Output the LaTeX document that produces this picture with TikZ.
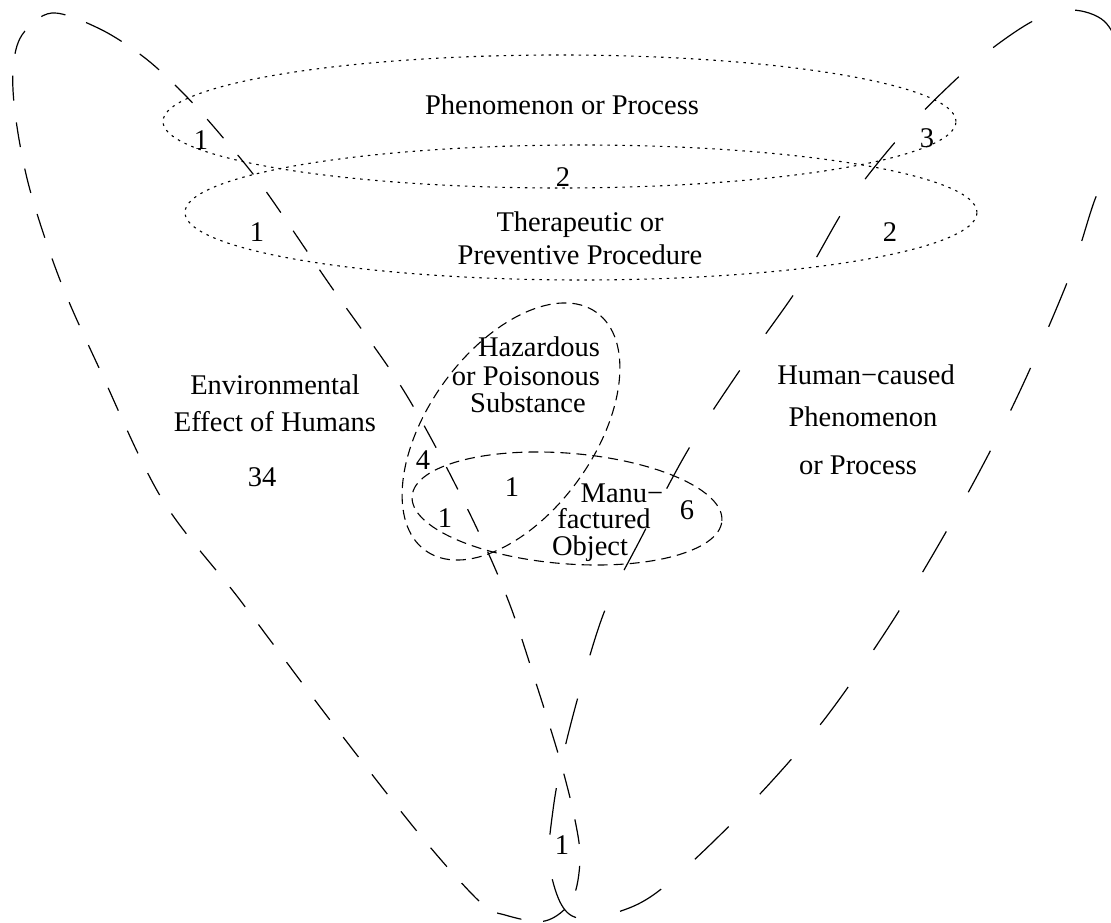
\documentclass[tikz,border=0pt]{standalone}
\usepackage{fontspec}
\setmainfont{Liberation Serif}
\begin{document}
\begin{tikzpicture}[x=1pt,y=1pt,
  lbl/.style={font=\fontsize{28.5}{33}\selectfont, inner sep=0pt, anchor=base},
  dotline/.style={line width=1.1pt, dash pattern=on 2.5pt off 5pt},
  shortdash/.style={line width=1.1pt, dash pattern=on 10pt off 6pt},
  longdashA/.style={line width=1.2pt, dash pattern=on 25pt off 22pt},
  longdashB/.style={line width=1.2pt, dash pattern=on 47pt off 45pt}]
\useasboundingbox (0,0) rectangle (1111,923);
\clip (0,0) rectangle (1111,923);

% dotted ellipses
\draw[dotline] (559.5,801.5) ellipse [x radius=396.5, y radius=66.5];
\draw[dotline] (581,710.5) ellipse [x radius=396, y radius=67.5];

% short dashed ellipses
\draw[shortdash, rotate around={54.3:(511,491.5)}] (511,491.5) ellipse [x radius=146.6, y radius=83];
\draw[shortdash, rotate around={-4.6:(567,414.5)}] (567,414.5) ellipse [x radius=155.4, y radius=55.3];

% left big loop
\draw[longdashA] plot[smooth cycle, tension=0.55] coordinates {
 (52,910) (100,894) (145,865) (185,828) (225,783) (265,733) (330,638)
 (397,543) (440,468) (480,388) (510,318) (535,243) (560,163) (575,103)
 (580,63) (572,23) (545,2) (505,8) (480,21) (420,88) (330,203) (240,323)
 (162,424) (100,553) (60,643) (30,733) (16,803) (13,853) (22,888)};

% right big loop
\draw[longdashB] plot[smooth cycle, tension=0.55] coordinates {
 (1072,913) (1104,902) (1120,870) (1122,820) (1114,770) (1094,721) (1072,653)
 (1035,565) (998,487) (950,398) (890,298) (820,198) (740,108) (660,33)
 (615,10) (578,5) (560,21) (549,63) (553,113) (562,163) (580,233)
 (605,313) (640,383) (688,473) (740,553) (800,638) (850,723) (903,790)
 (950,838) (990,873) (1035,903)};

% labels
\node[lbl] (pp) at (562,808) {Phenomenon or Process};
\node[lbl] (n2a) at (563,736) {2};
\node[lbl] (tp1) at (580,691) {Therapeutic or};
\node[lbl] (tp2) at (580,658) {Preventive Procedure};
\node[lbl] (n1a) at (201,773) {1};
\node[lbl] (n3) at (927,775) {3};
\node[lbl] (n1b) at (257,681) {1};
\node[lbl] (n2b) at (890,681) {2};
\node[lbl] (env1) at (275,528) {Environmental};
\node[lbl] (env2) at (275,491) {Effect of Humans};
\node[lbl] (n34) at (262,436) {34};
\node[lbl] (hc1) at (866,538) {Human−caused};
\node[lbl] (hc2) at (863,496) {Phenomenon};
\node[lbl] (hc3) at (858,448) {or Process};
\node[lbl] (hz1) at (539,566) {Hazardous};
\node[lbl] (hz2) at (526,537) {or Poisonous};
\node[lbl] (hz3) at (528,510) {Substance};
\node[lbl] (n4) at (423,453) {4};
\node[lbl] (n1c) at (512,426) {1};
\node[lbl] (n1d) at (445,395) {1};
\node[lbl] (mf1) at (622,420) {Manu−};
\node[lbl] (mf2) at (604,394) {factured};
\node[lbl] (mf3) at (590,367) {Object};
\node[lbl] (n6) at (687,403) {6};
\node[lbl] (n1e) at (562,68) {1};
\end{tikzpicture}
\end{document}
